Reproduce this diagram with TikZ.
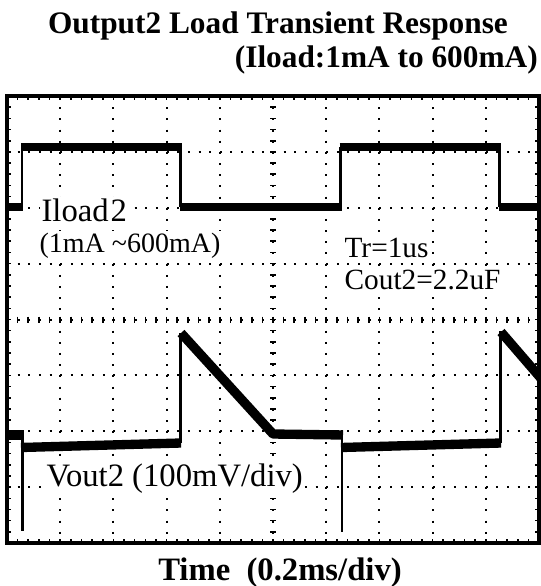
\documentclass[tikz,border=0pt]{standalone}
\usepackage{fontspec}
\setmainfont{Liberation Serif}
\begin{document}
\begin{tikzpicture}[x=0.75pt,y=-0.75pt,
  gridv/.style={line width=1.5pt, dash pattern=on 1.5pt off 6.88pt},
  gridh/.style={line width=1.5pt, dash pattern=on 1.5pt off 6.48pt},
  tickmark/.style={line width=1.2pt},
  frameline/.style={line width=2.4pt},
  edgeline/.style={line width=1.6pt},
  itrace/.style={line width=5.5pt},
  vtrace/.style={line width=7pt, line join=round},
  lbl/.style={font=\fontsize{22}{24}\selectfont, fill=white, inner sep=1pt},
  lblbig/.style={font=\fontsize{24.5}{26}\selectfont, fill=white, inner sep=1pt},
  lblsmall/.style={font=\fontsize{21}{23}\selectfont, fill=white, inner sep=1pt},
  ttl/.style={font=\bfseries\fontsize{23.5}{26}\selectfont, inner sep=0pt}]
\useasboundingbox (0,0) rectangle (541,586);
% grid
\foreach \k in {1,...,9} \draw[gridv] ({7+53.2*\k},96) -- ({7+53.2*\k},543);
\foreach \k in {1,...,7} \draw[gridh] (7,{96+55.875*\k}) -- (539,{96+55.875*\k});
% centre ticks
\foreach \i in {1,...,49} \draw[tickmark] ({7+10.64*\i},316.5) -- ++(0,6);
\foreach \i in {1,...,39} \draw[tickmark] (270,{96+11.175*\i}) -- ++(6,0);
% border ticks
\foreach \i in {1,...,49} {\draw[tickmark] ({7+10.64*\i},543) -- ++(0,-4);
  \draw[tickmark] ({7+10.64*\i},96) -- ++(0,4);}
\foreach \i in {1,...,39} {\draw[tickmark] (7,{96+11.175*\i}) -- ++(4,0);
  \draw[tickmark] (539,{96+11.175*\i}) -- ++(-4,0);}
% traces
\begin{scope}
\clip (7,96) rectangle (539,543);
% Iload
\draw[edgeline] (22,207) -- (22,147) (180.5,147) -- (180.5,207)
  (340.5,207) -- (340.5,147) (499.5,147) -- (499.5,207);
\draw[itrace] (7,207) -- (23,207) (21,147) -- (181.5,147) (179.5,207) -- (341.5,207)
  (339.5,147) -- (500.5,147) (498.5,207) -- (539,207);
% Vout
\draw[vtrace] (7,435) -- (21,435);
\draw[edgeline] (22.5,430) -- (22.5,531);
\draw[vtrace] (21,447.5) -- (181,443);
\draw[edgeline] (180.5,443) -- (180.5,333);
\draw[vtrace] (181,333) -- (273,434) -- (343,435);
\draw[edgeline] (342,430) -- (342,532);
\draw[vtrace] (341,447.5) -- (501,443);
\draw[edgeline] (500.5,443) -- (500.5,331);
\draw[vtrace] (501,332) -- (545,383);
\end{scope}
\draw[frameline] (7,96) rectangle (539,543);
% labels
\node[lblbig, anchor=base west] (iload) at (40,221) {Iload\kern1.5pt2};
\node[lblsmall, anchor=base west] (range) at (38,252) {(1mA \textasciitilde600mA)};
\node[lbl, anchor=base west] (tr) at (343,257) {Tr=1us};
\node[lbl, anchor=base west] (cout) at (343,289) {Cout2=2.2uF};
\node[lblbig, anchor=base west] (vout) at (45,486) {Vout2 (100mV/div)};
\node[ttl, anchor=base] (t1) at (278,33) {Output2 Load Transient Response};
\node[ttl, anchor=base east] (t2) at (538,67) {(Iload:1mA to 600mA)};
\node[ttl, font=\bfseries\fontsize{24.5}{26}\selectfont, anchor=base] (time) at (280,580) {Time\enspace(0.2ms/div)};
\end{tikzpicture}
\end{document}
